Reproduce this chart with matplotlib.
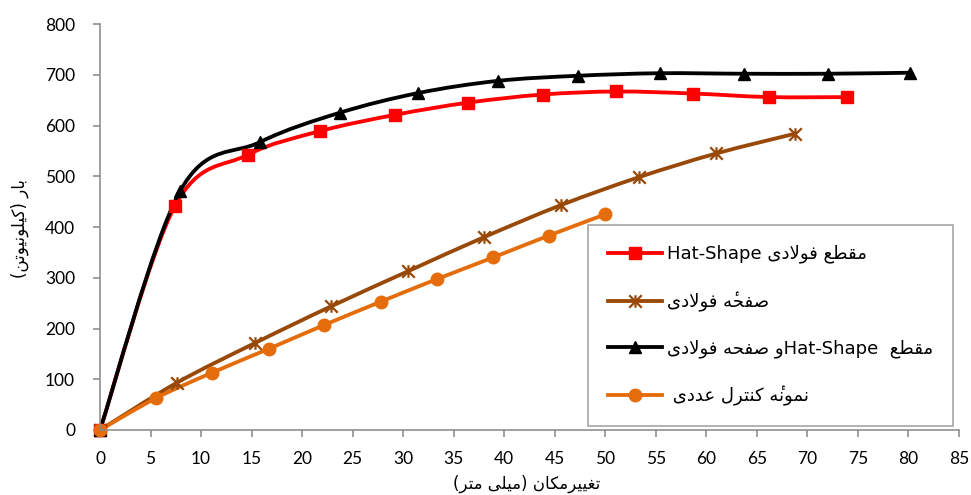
import numpy as np
import matplotlib
matplotlib.use("Agg")
import matplotlib.pyplot as plt
import matplotlib.patches as patches
from matplotlib.path import Path
from matplotlib.lines import Line2D

# values
hat_x = [0, 7.4, 14.6, 21.8, 29.2, 36.4, 43.8, 51.1, 58.7, 66.2, 73.9]
hat_y = [0, 441, 542, 589, 621, 645, 661, 667, 663, 656, 656]

plate_x = [0, 7.6, 15.3, 22.9, 30.5, 38.0, 45.6, 53.3, 61.0, 68.8]
plate_y = [0, 93, 171, 244, 313, 380, 443, 498, 545, 584]

both_x = [0, 7.9, 15.8, 23.7, 31.5, 39.4, 47.3, 55.4, 63.7, 72.0, 80.2]
both_y = [0, 470, 567, 625, 664, 688, 698, 703, 702, 702, 704]

num_x = [0, 5.56, 11.1, 16.7, 22.2, 27.8, 33.3, 38.9, 44.4, 50.0]
num_y = [0, 63, 113, 160, 207, 253, 297, 340, 383, 425]

x_ticks = list(range(0, 86, 5))
y_ticks = list(range(0, 801, 100))

HAMZA = '\u0654'
# matplotlib does no arabic shaping, so pick the contextual forms by hand
# (isolated, final, initial, medial) - right joining letters have only two
FORMS = {
    '\u0627': ('\uFE8D', '\uFE8E'),                      # alef
    '\u0628': ('\uFE8F', '\uFE90', '\uFE91', '\uFE92'),  # beh
    '\u062A': ('\uFE95', '\uFE96', '\uFE97', '\uFE98'),  # teh
    '\u062D': ('\uFEA1', '\uFEA2', '\uFEA3', '\uFEA4'),  # hah
    '\u062F': ('\uFEA9', '\uFEAA'),                      # dal
    '\u0631': ('\uFEAD', '\uFEAE'),                      # reh
    '\u0635': ('\uFEB9', '\uFEBA', '\uFEBB', '\uFEBC'),  # sad
    '\u0637': ('\uFEC1', '\uFEC2', '\uFEC3', '\uFEC4'),  # tah
    '\u0639': ('\uFEC9', '\uFECA', '\uFECB', '\uFECC'),  # ain
    '\u063A': ('\uFECD', '\uFECE', '\uFECF', '\uFED0'),  # ghain
    '\u0641': ('\uFED1', '\uFED2', '\uFED3', '\uFED4'),  # feh
    '\u0642': ('\uFED5', '\uFED6', '\uFED7', '\uFED8'),  # qaf
    '\u0644': ('\uFEDD', '\uFEDE', '\uFEDF', '\uFEE0'),  # lam
    '\u0645': ('\uFEE1', '\uFEE2', '\uFEE3', '\uFEE4'),  # meem
    '\u0646': ('\uFEE5', '\uFEE6', '\uFEE7', '\uFEE8'),  # noon
    '\u0647': ('\uFEE9', '\uFEEA', '\uFEEB', '\uFEEC'),  # heh
    '\u0648': ('\uFEED', '\uFEEE'),                      # waw
    '\u06A9': ('\uFB8E', '\uFB8F', '\uFB90', '\uFB91'),  # keheh
    '\u06CC': ('\uFEEF', '\uFEF0', '\uFEF3', '\uFEF4'),  # farsi yeh
}


def rtl(s):
    out = []
    i = 0
    while i < len(s):
        c = s[i]
        if c == HAMZA:
            # keep the mark right after its letter in visual order
            if out:
                out[-1] = out[-1] + HAMZA
            i += 1
            continue
        if c not in FORMS:
            out.append(c)
            i += 1
            continue
        prev = s[i - 1] if i > 0 else None
        joins_prev = prev in FORMS and len(FORMS[prev]) == 4
        if c == '\u0644' and i + 1 < len(s) and s[i + 1] == '\u0627':
            out.append('\uFEFC' if joins_prev else '\uFEFB')
            i += 2
            continue
        nxt = s[i + 1] if i + 1 < len(s) else None
        if nxt == HAMZA:
            nxt = s[i + 2] if i + 2 < len(s) else None
        joins_next = len(FORMS[c]) == 4 and nxt in FORMS
        f = FORMS[c]
        if joins_prev and joins_next:
            out.append(f[3])
        elif joins_prev:
            out.append(f[1])
        elif joins_next:
            out.append(f[2])
        else:
            out.append(f[0])
        i += 1
    vis = ''.join(reversed(out))
    return vis.translate(str.maketrans('()', ')('))


def smooth_path(x, y):
    # excel style smoothed line (catmull-rom through the points)
    pts = np.column_stack([x, y]).astype(float)
    n = len(pts)
    verts = [pts[0]]
    codes = [Path.MOVETO]
    for i in range(n - 1):
        p0 = pts[i - 1] if i > 0 else pts[i]
        p1 = pts[i]
        p2 = pts[i + 1]
        p3 = pts[i + 2] if i + 2 < n else pts[i + 1]
        verts += [p1 + (p2 - p0) / 6.0, p2 - (p3 - p1) / 6.0, p2]
        codes += [Path.CURVE4] * 3
    return Path(verts, codes)


star = Path([(0, -1), (0, 1), (-1, -1), (1, 1), (-1, 1), (1, -1)],
            [Path.MOVETO, Path.LINETO] * 3)

series = [
    (hat_x, hat_y, '#FF0000', 's', 9, "Hat-Shape " + rtl("مقطع فولادی")),
    (plate_x, plate_y, '#984807', star, 9, rtl("صفحهٔ فولادی")),
    (both_x, both_y, '#000000', '^', 9,
     rtl("و صفحه فولادی") + "Hat-Shape" + "  " + rtl("مقطع")),
    (num_x, num_y, '#E46C0A', 'o', 9, " " + rtl("نمونهٔ کنترل عددی")),
]

W, H = 971, 495
fig = plt.figure(figsize=(W / 100, H / 100), dpi=100)
ax = fig.add_axes([100 / W, 1 - 430 / H, 859 / W, 406 / H])

handles = []
for sx, sy, col, mk, ms, lab in series:
    ax.add_patch(patches.PathPatch(smooth_path(sx, sy), facecolor='none', edgecolor=col,
                                   lw=2.75, capstyle='round', joinstyle='round', clip_on=False))
    mew = 1.6 if mk is star else 1
    ax.plot(sx, sy, ls='none', marker=mk, ms=ms, color=col, mec=col, mew=mew, clip_on=False)
    handles.append(Line2D([], [], color=col, lw=2.75, marker=mk, ms=ms, mec=col, mew=mew, label=lab))

ax.set_xlim(0, 85)
ax.set_ylim(0, 800)
ax.set_xticks(x_ticks)
ax.set_yticks(y_ticks)
for s in ['top', 'right']:
    ax.spines[s].set_visible(False)
for s in ['left', 'bottom']:
    ax.spines[s].set_color('#868686')
    ax.spines[s].set_linewidth(1.1)
ax.tick_params(axis='both', direction='out', length=5, width=1.1, color='#868686',
               labelsize=12.5, labelcolor='black')
ax.tick_params(axis='y', pad=13)
ax.tick_params(axis='x', pad=10)
for lbl in ax.get_xticklabels() + ax.get_yticklabels():
    lbl.set_fontfamily('Lato')

fig.text(527 / W, 1 - 484 / H, rtl("تغییرمکان (میلی متر)"), ha='center', va='center',
         fontsize=12, family='DejaVu Sans')
fig.text(20 / W, 1 - 228 / H, rtl("بار (کیلونیوتن)"), ha='center', va='center',
         rotation=90, fontsize=12, family='DejaVu Sans')

leg = ax.legend(handles=handles, loc='upper left', bbox_to_anchor=(588 / W, 1 - 225 / H),
                bbox_transform=fig.transFigure, borderaxespad=0, fancybox=False,
                framealpha=1, edgecolor='#a6a6a6', prop={'family': 'DejaVu Sans', 'size': 13},
                handlelength=3.0, handletextpad=0.3, labelspacing=1.55, borderpad=1.1)
leg.get_frame().set_linewidth(1.2)

fig.savefig('out.png', dpi=100)
